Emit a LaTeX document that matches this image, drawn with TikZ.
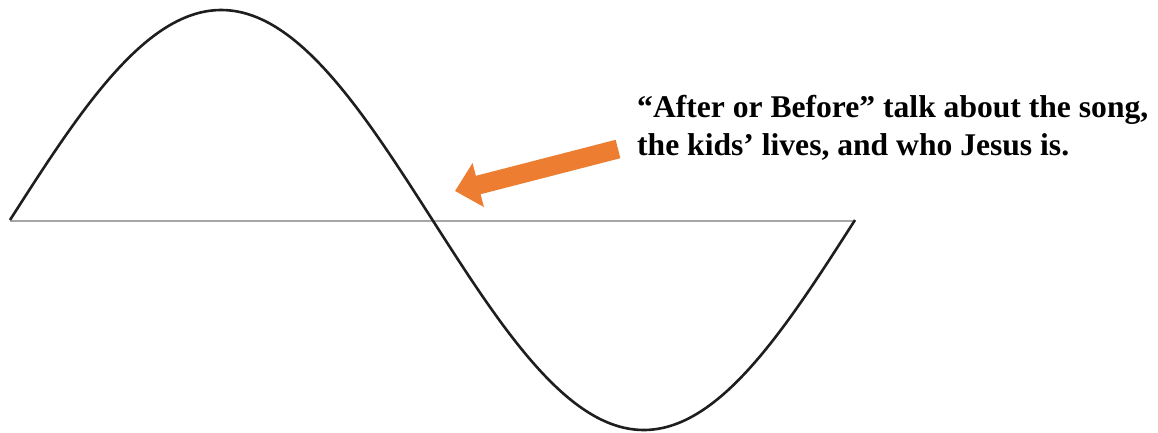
\documentclass[tikz,border=0pt]{standalone}
\usepackage{fontspec}
\setmainfont{Liberation Serif}
\usetikzlibrary{arrows.meta}
\definecolor{arroworange}{HTML}{ED7D31}
\definecolor{axisgray}{HTML}{A6A6A6}
\definecolor{wavecol}{HTML}{1E1E1E}
\tikzset{
  axisline/.style={draw=axisgray, line width=2pt},
  waveline/.style={draw=wavecol, line width=2.6pt, line join=round},
  bigarrow/.style={draw=arroworange, line width=19pt, -{Triangle[length=24pt,width=44pt]}},
  labeltext/.style={inner sep=0pt, align=left, font=\bfseries\fontsize{31.6}{38}\selectfont}
}
\begin{document}
\begin{tikzpicture}[x=1pt,y=-1pt]
\useasboundingbox (0,0) rectangle (1158,432);
\coordinate (axl) at (10,221);
\coordinate (axr) at (853,221);
\draw[axisline] (axl) -- (axr);
\draw[waveline] plot[domain=0:360, samples=240, smooth] ({10+2.347222*\x},{220-210*sin(\x)});
\node[labeltext, anchor=base west] (label) at (637,155) {``After or Before'' talk about the song,\\the kids' lives, and who Jesus is.};
\coordinate (atail) at (618,149);
\coordinate (ahead) at (455,191);
\draw[bigarrow] (atail) -- (ahead);
\end{tikzpicture}
\end{document}
